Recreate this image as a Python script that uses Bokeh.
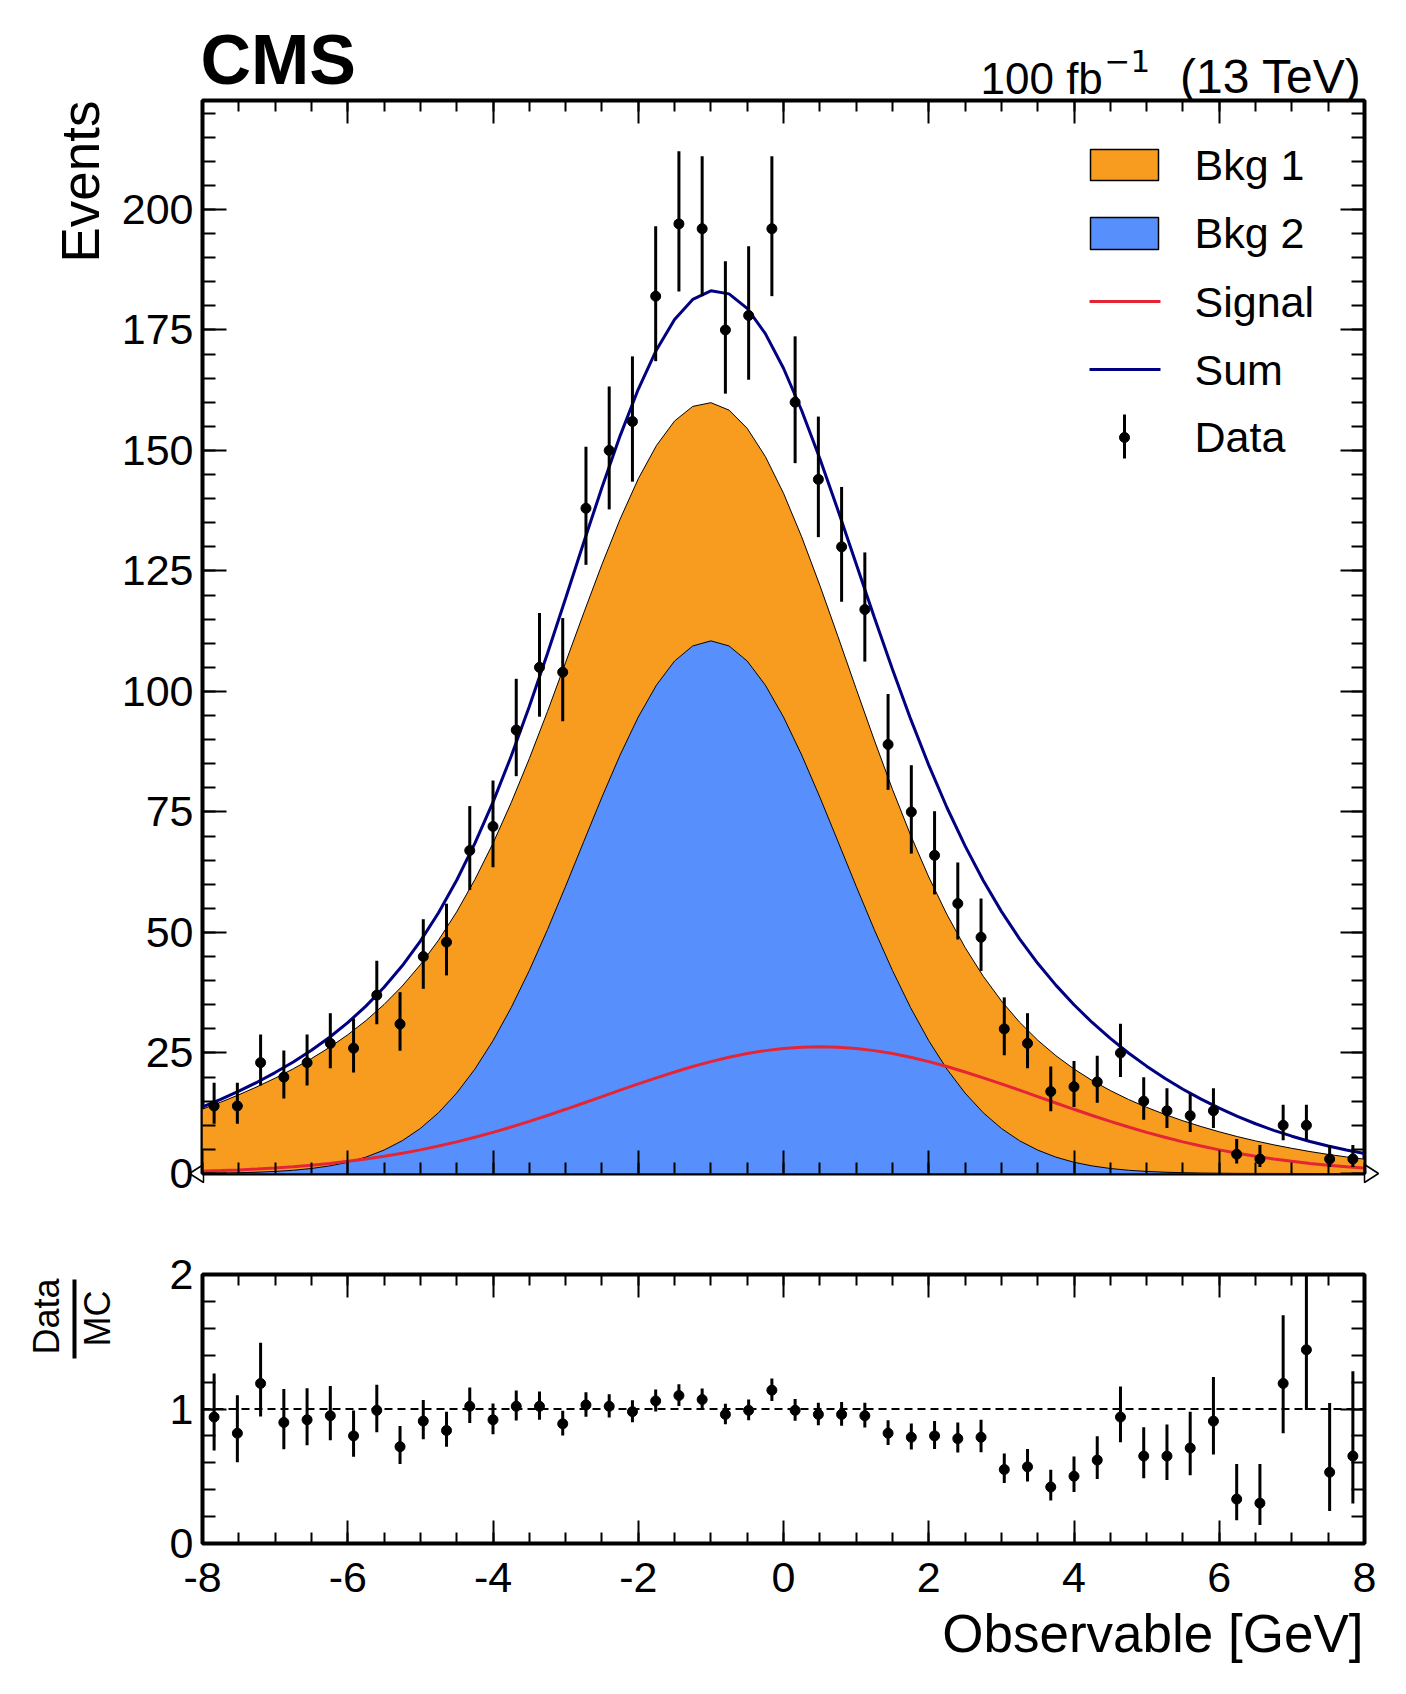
import numpy as np
from bokeh.plotting import figure
from bokeh.models import Range1d, FixedTicker, LinearAxis, Label, Span
from bokeh.layouts import column
from bokeh.embed import file_html
from bokeh.resources import INLINE

# ---------------- data ----------------
x_lo, x_hi, n_bins = -8.0, 8.0, 50

data_counts = [14, 14, 23, 20, 23, 27, 26, 37, 31, 45,
               48, 67, 72, 92, 105, 104, 138, 150, 156, 182,
               197, 196, 175, 178, 196, 160, 144, 130, 117, 89,
               75, 66, 56, 49, 30, 27, 17, 18, 19, 25,
               15, 13, 12, 13, 4, 3, 10, 10, 3, 3]

ratio_vals = [0.94, 0.82, 1.19, 0.90, 0.92, 0.95, 0.80, 0.99, 0.72, 0.91,
              0.84, 1.02, 0.92, 1.02, 1.02, 0.89, 1.03, 1.02, 0.98, 1.06,
              1.10, 1.07, 0.96, 0.99, 1.14, 0.99, 0.96, 0.96, 0.95, 0.82,
              0.79, 0.80, 0.78, 0.79, 0.55, 0.57, 0.42, 0.50, 0.62, 0.94,
              0.65, 0.65, 0.71, 0.91, 0.33, 0.30, 1.19, 1.44, 0.53, 0.65]

# curves sampled every 0.25 from -8 to 8
curve_x = np.linspace(-8.0, 8.0, 65)

bkg2 = [0.06, 0.10, 0.16, 0.27, 0.43, 0.67, 1.04, 1.57, 2.33, 3.40,
        4.86, 6.80, 9.35, 12.61, 16.69, 21.65, 27.55, 34.40, 42.12, 50.59,
        59.61, 68.88, 78.08, 86.82, 94.70, 101.31, 106.32, 109.44, 110.50, 109.44,
        106.32, 101.31, 94.70, 86.82, 78.08, 68.88, 59.61, 50.59, 42.12, 34.40,
        27.55, 21.65, 16.69, 12.61, 9.35, 6.80, 4.86, 3.40, 2.33, 1.57,
        1.04, 0.67, 0.43, 0.27, 0.16, 0.10, 0.06, 0.03, 0.02, 0.01,
        0.01, 0.0, 0.0, 0.0, 0.0]

bkg1 = [13.30, 14.69, 16.17, 17.72, 19.35, 21.05, 22.80, 24.60, 26.45, 28.32,
        30.21, 32.09, 33.96, 35.80, 37.59, 39.32, 40.96, 42.51, 43.95, 45.26,
        46.42, 47.43, 48.27, 48.93, 49.41, 49.70, 49.80, 49.70, 49.41, 48.93,
        48.27, 47.43, 46.42, 45.26, 43.95, 42.51, 40.96, 39.32, 37.59, 35.80,
        33.96, 32.09, 30.21, 28.32, 26.45, 24.60, 22.80, 21.05, 19.35, 17.72,
        16.17, 14.69, 13.30, 11.99, 10.77, 9.64, 8.59, 7.62, 6.74, 5.94,
        5.21, 4.55, 3.96, 3.44, 2.97]

signal = [0.47, 0.60, 0.75, 0.93, 1.16, 1.42, 1.73, 2.09, 2.52, 3.00,
          3.56, 4.19, 4.90, 5.69, 6.56, 7.51, 8.54, 9.64, 10.81, 12.04,
          13.32, 14.63, 15.95, 17.28, 18.58, 19.85, 21.06, 22.19, 23.21, 24.11,
          24.88, 25.49, 25.94, 26.21, 26.30, 26.21, 25.94, 25.49, 24.88, 24.11,
          23.21, 22.19, 21.06, 19.85, 18.58, 17.28, 15.95, 14.63, 13.32, 12.04,
          10.81, 9.64, 8.54, 7.51, 6.56, 5.69, 4.90, 4.19, 3.56, 3.00,
          2.52, 2.09, 1.73, 1.42, 1.16]

x_major = [-8, -6, -4, -2, 0, 2, 4, 6, 8]
x_tick_labels = ["-8", "-6", "-4", "-2", "0", "2", "4", "6", "8"]
y_major_main = [0, 25, 50, 75, 100, 125, 150, 175, 200]
y_major_ratio = [0, 1, 2]

legend_labels = ["Bkg 1", "Bkg 2", "Signal", "Sum", "Data"]

C_BKG1 = "#f89c20"
C_BKG2 = "#5790fc"
C_SIG = "#e42536"
C_SUM = "#000080"

# ---------------- derived ----------------
edges = np.linspace(x_lo, x_hi, n_bins + 1)
centers = 0.5 * (edges[1:] + edges[:-1])
N = np.array(data_counts, dtype=float)
# asymmetric Poisson (Garwood) 1 sigma errors, Wilson-Hilferty approximation
lo_bound = N * (1 - 1 / (9 * N) - 1 / (3 * np.sqrt(N))) ** 3
hi_bound = (N + 1) * (1 - 1 / (9 * (N + 1)) + 1 / (3 * np.sqrt(N + 1))) ** 3
err_lo = N - lo_bound
err_hi = hi_bound - N
r = np.array(ratio_vals)
r_lo = r * (1 - err_lo / N)
r_hi = r * (1 + err_hi / N)

b2 = np.array(bkg2)
stack = b2 + np.array(bkg1)
total = stack + np.array(signal)

# ---------------- geometry (page pixels) ----------------
FW = 1162           # frame width
MH = 1073           # main frame height
RH = 269            # ratio frame height
BL, BR = 202, 30
P1_TOP, P1_BOT = 100, 30
P2_TOP, P2_BOT = 71, 65
Y_MAX = 222.6
TOT_W = BL + FW + BR
BG_H = 1690
BASE_SHIFT = 0.37   # label anchor sits this many em above the baseline

FL = BL
MAIN_TOP = P1_TOP
MAIN_BOT = MAIN_TOP + MH


def mx(px):
    return x_lo + (px - FL) * (x_hi - x_lo) / FW


def my(py):
    return (MAIN_BOT - py) * Y_MAX / MH


FONT = "Liberation Sans"


def make_fig(h, top, bottom, yr):
    p = figure(frame_width=FW, frame_height=h,
               x_range=Range1d(x_lo, x_hi), y_range=yr,
               min_border_left=BL, min_border_right=BR,
               min_border_top=top, min_border_bottom=bottom,
               output_backend="svg", toolbar_location=None)
    p.xgrid.grid_line_color = None
    p.ygrid.grid_line_color = None
    p.outline_line_color = "black"
    p.outline_line_width = 4
    p.background_fill_color = "white"
    p.border_fill_color = None          # let the text layer below show
    return p


def style(ax, ticker, show, tick_major, tick_minor):
    ax.ticker = ticker
    ax.axis_line_color = None
    ax.major_tick_in = tick_major
    ax.major_tick_out = 0
    ax.minor_tick_in = tick_minor
    ax.minor_tick_out = 0
    ax.major_tick_line_width = 2
    ax.minor_tick_line_width = 2
    ax.major_tick_line_color = "black"
    ax.minor_tick_line_color = "black"
    ax.major_label_text_font = FONT
    if show:
        ax.major_label_text_color = "black"
        ax.major_label_text_font_size = "43px"
        ax.major_label_standoff = 9
    else:
        ax.major_label_text_color = None
        ax.major_label_text_alpha = 0
        ax.major_label_text_font_size = "0px"
        ax.major_label_standoff = 0


def x_ticker():
    return FixedTicker(ticks=x_major,
                       minor_ticks=list(np.arange(-8, 8.01, 0.5)))


# ---------------- text layer (whole page, below the panels) ----------------
bg = figure(width=TOT_W, height=BG_H, x_range=Range1d(0, TOT_W),
            y_range=Range1d(0, BG_H), x_axis_type=None, y_axis_type=None,
            min_border=0, output_backend="svg", toolbar_location=None)
bg.outline_line_color = None
bg.background_fill_color = "white"
bg.border_fill_color = "white"
bg.margin = (0, 0, -BG_H, 0)


def text(px, py, s, size, align="left", bold=False, rotated=False, font=FONT):
    """place text so that its baseline passes through page pixel (px, py)"""
    shift = BASE_SHIFT * size
    if rotated:
        ax_, ay_ = px - shift, py
    else:
        ax_, ay_ = px, py - shift
    bg.add_layout(Label(x=ax_, y=BG_H - ay_, text=s, text_font=font,
                        text_font_size=f"{size}px", text_align=align,
                        text_baseline="alphabetic",
                        angle=np.pi / 2 if rotated else 0.0,
                        text_font_style="bold" if bold else "normal",
                        text_color="black"))


text(200, 85, "CMS", 70, bold=True)
text(980, 94, "100 fb", 44)
text(1104, 72, "\u22121", 31, font="DejaVu Sans")
text(1361, 94, "(13 TeV)", 48, align="right")
text(100, 100, "Events", 53, align="right", rotated=True)
text(59, 1278, "Data", 36, align="right", rotated=True)
text(110, 1290, "MC", 36, align="right", rotated=True)
bg.segment(x0=[74], y0=[BG_H - 1279], x1=[74], y1=[BG_H - 1358],
           line_color="black", line_width=4)
text(1363, 1653, "Observable [GeV]", 53, align="right")
# white arrow heads at both ends of the x axis
for tip, base in ((189, 203), (1378, 1364)):
    bg.patch(x=[tip, base, base],
             y=[BG_H - MAIN_BOT, BG_H - MAIN_BOT + 9, BG_H - MAIN_BOT - 9],
             fill_color="white", line_color="black", line_width=1.5)

# ---------------- main panel ----------------
p1 = make_fig(MH, P1_TOP, P1_BOT, Range1d(0, Y_MAX))
ym_ticker = lambda: FixedTicker(ticks=y_major_main,
                                minor_ticks=list(np.arange(0, 222, 5)))
style(p1.xaxis[0], x_ticker(), False, 23, 11)
style(p1.yaxis[0], ym_ticker(), True, 24, 13)
ax_r = LinearAxis()
style(ax_r, ym_ticker(), False, 24, 13)
p1.add_layout(ax_r, "right")
ax_t = LinearAxis()
style(ax_t, x_ticker(), False, 23, 11)
p1.add_layout(ax_t, "above")

p1.varea(x=curve_x, y1=b2, y2=stack, fill_color=C_BKG1)
p1.varea(x=curve_x, y1=0, y2=b2, fill_color=C_BKG2)
p1.line(curve_x, stack, line_color="black", line_width=1)
p1.line(curve_x, b2, line_color="black", line_width=1)
p1.line(curve_x, signal, line_color=C_SIG, line_width=3)
p1.line(curve_x, total, line_color=C_SUM, line_width=3)
p1.segment(x0=centers, y0=N - err_lo, x1=centers, y1=N + err_hi,
           line_color="black", line_width=3)
p1.scatter(centers, N, size=10, color="black")

# legend (drawn by hand inside the frame)
bx0, bx1 = mx(1090), mx(1158)
bxc, bw = 0.5 * (bx0 + bx1), bx1 - bx0
p1.rect(x=[bxc], y=[my(164.5)], width=bw, height=my(149) - my(180),
        fill_color=C_BKG1, line_color="black", line_width=1.5)
p1.rect(x=[bxc], y=[my(233)], width=bw, height=my(217) - my(249),
        fill_color=C_BKG2, line_color="black", line_width=1.5)
p1.line([mx(1089), mx(1160)], [my(301), my(301)], line_color=C_SIG, line_width=3)
p1.line([mx(1089), mx(1160)], [my(369), my(369)], line_color=C_SUM, line_width=3)
p1.segment(x0=[bxc], y0=[my(458)], x1=[bxc], y1=[my(414)],
           line_color="black", line_width=3)
p1.scatter([bxc], [my(437)], size=10, color="black")
for lab, base in zip(legend_labels, [180, 248.5, 317, 385, 452]):
    p1.add_layout(Label(x=mx(1194), y=my(base - BASE_SHIFT * 43), text=lab,
                        text_font=FONT, text_font_size="43px",
                        text_baseline="alphabetic", text_align="left",
                        text_color="black"))

# ---------------- ratio panel ----------------
p2 = make_fig(RH, P2_TOP, P2_BOT, Range1d(0, 2))
p2.x_range = p1.x_range
yr_ticker = lambda: FixedTicker(ticks=y_major_ratio,
                                minor_ticks=list(np.arange(0, 2.01, 0.2)))
style(p2.xaxis[0], x_ticker(), True, 23, 11)
p2.xaxis[0].major_label_overrides = dict(zip(x_major, x_tick_labels))
p2.xaxis[0].major_label_standoff = 19
style(p2.yaxis[0], yr_ticker(), True, 24, 13)
ax_r2 = LinearAxis()
style(ax_r2, yr_ticker(), False, 24, 13)
p2.add_layout(ax_r2, "right")
ax_t2 = LinearAxis()
style(ax_t2, x_ticker(), False, 23, 11)
p2.add_layout(ax_t2, "above")

p2.add_layout(Span(location=1, dimension="width", line_color="black",
                   line_width=2, line_dash="8 5"))
p2.segment(x0=centers, y0=r_lo, x1=centers, y1=r_hi,
           line_color="black", line_width=3)
p2.scatter(centers, r, size=10, color="black")

# panels are nested in their own column so that the text layer keeps
# its full-canvas frame
layout = column(bg, column(p1, p2, spacing=0), spacing=0)
open("out.html", "w").write(file_html(layout, INLINE))
